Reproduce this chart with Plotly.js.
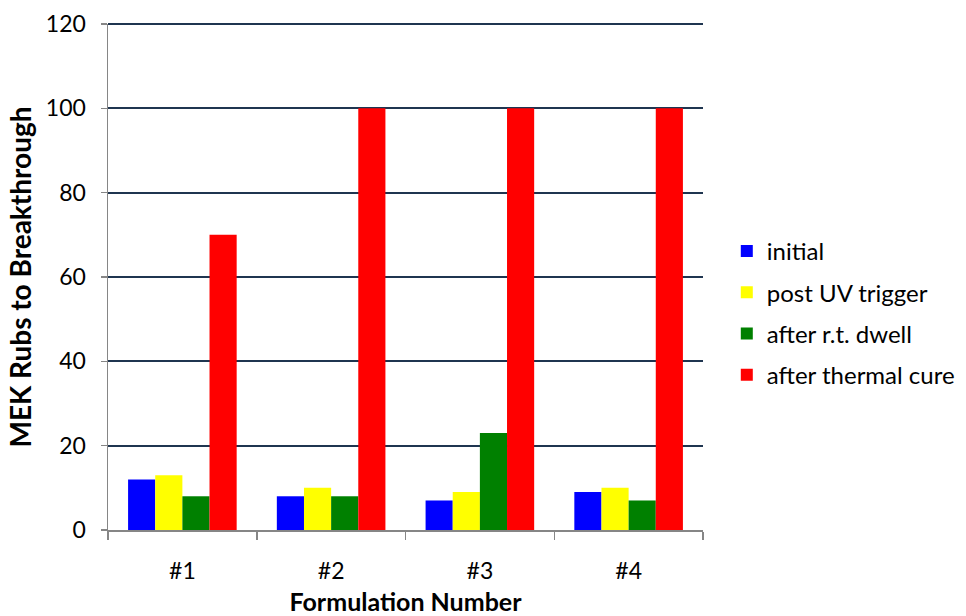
<!DOCTYPE html>
<html>
<head>
<meta charset="utf-8">
<script src="https://cdn.plot.ly/plotly-3.0.1.min.js"></script>
<style>html,body{margin:0;padding:0;background:#fff}#chart{width:966px;height:616px}</style>
</head>
<body>
<div id="chart"></div>
<script>
var categories = ["#1", "#2", "#3", "#4"];
var seriesNames = ["initial", "post UV trigger", "after r.t. dwell", "after thermal cure"];
var initialVals = [12, 8, 7, 9];
var postUVVals = [13, 10, 9, 10];
var dwellVals = [8, 8, 23, 7];
var thermalVals = [70, 100, 100, 100];
var seriesColors = ["#0000FF", "#FFFF00", "#008000", "#FF0000"];
var yTickVals = [0, 20, 40, 60, 80, 100, 120];

var allVals = [initialVals, postUVVals, dwellVals, thermalVals];
var traces = allVals.map(function (vals, i) {
  return {
    type: "bar",
    name: seriesNames[i],
    x: categories,
    y: vals,
    legendgroup: "g" + i,
    marker: {color: seriesColors[i], line: {width: 0}}
  };
});

var gridColor = "#1F3550";
var font = "Lato, 'Open Sans', 'Liberation Sans', sans-serif";
var layout = {
  width: 966, height: 616,
  margin: {l: 108, r: 263, t: 24, b: 86, autoexpand: false},
  paper_bgcolor: "#fff", plot_bgcolor: "#fff",
  font: {family: font, size: 23, color: "#000"},
  barmode: "group",
  bargap: 0.27,
  bargroupgap: 0,
  showlegend: true,
  legend: {
    x: 1.04, xanchor: "left", y: 0.429, yanchor: "middle",
    traceorder: "grouped", tracegroupgap: 7,
    font: {family: font, size: 24, color: "#000"},
    itemwidth: 30
  },
  shapes: [{
    type: "line", xref: "paper", yref: "paper", x0: 0, x1: 1, y0: 1, y1: 1,
    line: {color: gridColor, width: 2}, layer: "below"
  }],
  xaxis: {
    type: "category",
    showline: true, linecolor: "#868686", linewidth: 1.5,
    ticks: "outside", tickson: "boundaries", ticklen: 8, tickcolor: "#868686", tickwidth: 1.5,
    ticklabelstandoff: 20,
    showgrid: false, zeroline: false,
    tickfont: {family: font, size: 23, color: "#000"},
    title: {text: "<b>Formulation Number</b>", font: {family: font, size: 25, color: "#000"}, standoff: 14}
  },
  yaxis: {
    range: [0, 120],
    tickvals: yTickVals,
    showline: true, linecolor: "#868686", linewidth: 1.5,
    ticks: "outside", ticklen: 6, tickcolor: "#868686", tickwidth: 1.5,
    ticklabelstandoff: 10,
    showgrid: true, gridcolor: gridColor, gridwidth: 2,
    zeroline: false,
    tickfont: {family: font, size: 23, color: "#000"},
    title: {text: "<b>MEK Rubs to Breakthrough</b>", font: {family: font, size: 28, color: "#000"}, standoff: 6}
  }
};

Plotly.newPlot("chart", traces, layout, {displayModeBar: false, staticPlot: true});
</script>
</body>
</html>
